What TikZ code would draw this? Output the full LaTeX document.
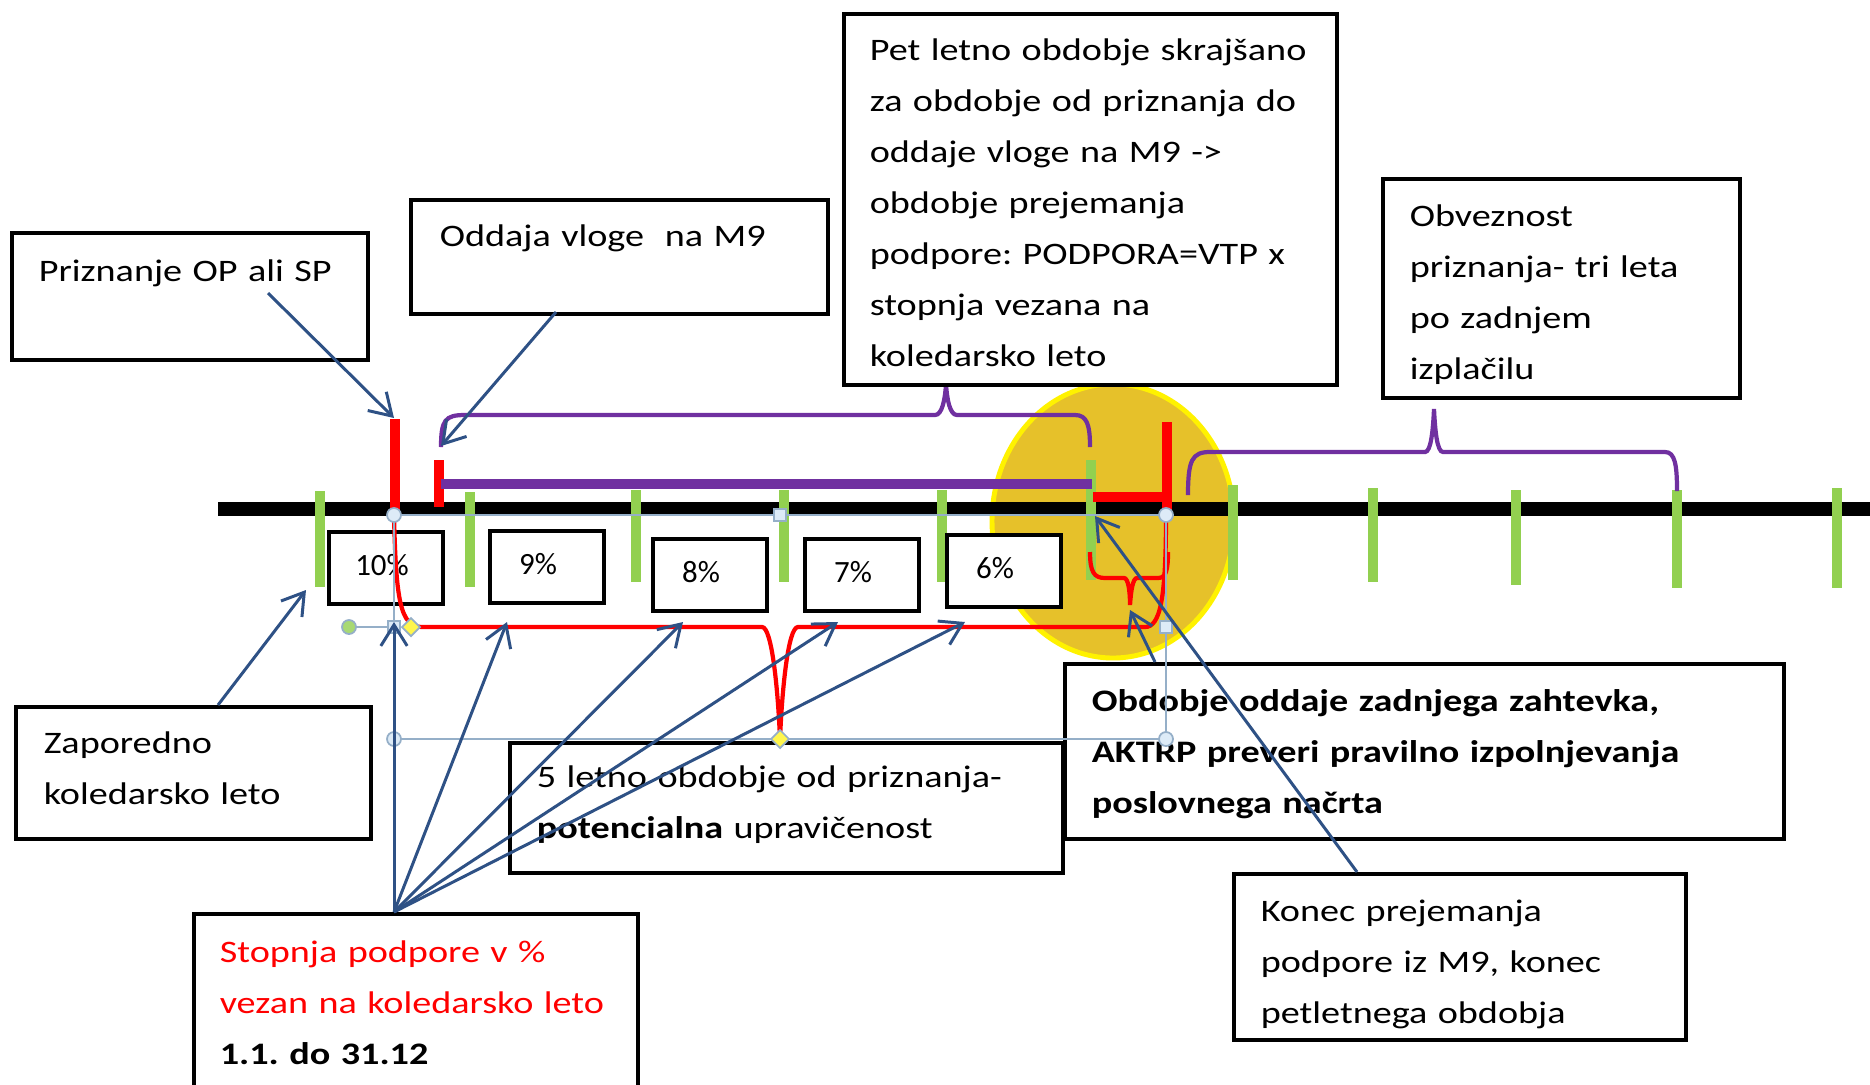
\documentclass[tikz,border=0pt]{standalone}
\usepackage{fontspec}
\setmainfont{Carlito}[FakeStretch=1.22]
\newfontfamily\pctfont{Carlito}
\usepackage{tikz}
\usetikzlibrary{arrows.meta}
\frenchspacing

\definecolor{tickgreen}{HTML}{92D050}
\definecolor{markred}{HTML}{FF0000}
\definecolor{markpurple}{HTML}{7030A0}
\definecolor{pointerblue}{HTML}{2E5185}
\definecolor{golddisc}{HTML}{E6C12A}
\definecolor{handleline}{HTML}{95AFC8}
\definecolor{handlefill}{HTML}{DDEBF7}

\tikzset{
  infobox/.style={draw, line width=1pt, fill=white, anchor=north west, align=left,
    inner ysep=1pt, font=\fontsize{8.9pt}{14.5pt}\selectfont},
  droptext/.style={execute at begin node={\rule{0pt}{#1}}},
  lifttext/.style={execute at end node={\rule[-#1]{0pt}{#1}}},
  pctbox/.style={draw, line width=1pt, fill=white, minimum width=1.14cm,
    minimum height=0.72cm, inner sep=0pt, text depth=2pt,
    execute at end node={\hspace*{#1}},
    font=\pctfont\fontsize{8.8pt}{10pt}\selectfont},
  pctbox/.default=0.18cm,
  pointer/.style={pointerblue, line width=0.85pt, -{Straight Barb[length=6pt,width=7.5pt]}},
  yeartick/.style={tickgreen, line width=3.1pt},
  bracket/.style={line width=1.2pt},
  handle/.style={draw=handleline, fill=handlefill, line width=0.5pt},
}

\begin{document}
\begin{tikzpicture}[x=0.01cm, y=-0.01cm]
  \useasboundingbox (0,0) rectangle (1870,1084);

  % disc behind the end of the period
  \draw[draw=yellow, line width=1.4pt, fill=golddisc]
  (1113,521) ellipse [x radius=121, y radius=137];

  % time axis and years
  \draw[line width=4pt] (218,509) -- (1870,509);
  \draw[yeartick]
  (320,491) -- (320,587)
  (470,492) -- (470,587)
  (636,490) -- (636,582)
  (784,490) -- (784,582)
  (942,490) -- (942,582)
  (1091,460) -- (1091,580)
  (1233,485) -- (1233,580)
  (1373,488) -- (1373,582)
  (1516,490) -- (1516,585)
  (1677,490) -- (1677,588)
  (1837,488) -- (1837,588)
  ;

  \draw[markred, line width=3.1pt]
  (395,419) -- (395,513)
  (439,460) -- (439,507)
  (1167,422) -- (1167,513)
  ;
  \draw[markred, line width=2.6pt] (1093,497) -- (1167,497);
  \draw[markpurple, line width=2.6pt] (441,484) -- (1092,484);

  \draw[markpurple, bracket]
  (441,447) .. controls (441,420) and (445,415) .. (465,415) -- (935,415)
  .. controls (942,415) and (945,400) .. (946,384)
  .. controls (947,400) and (950,415) .. (957,415) -- (1075,415)
  .. controls (1087,415) and (1090,425) .. (1090,447);
  \draw[markpurple, bracket]
  (1188,495) .. controls (1188,460) and (1192,452) .. (1210,452) -- (1425,452)
  .. controls (1431,452) and (1433,430) .. (1434,409)
  .. controls (1435,430) and (1437,452) .. (1443,452) -- (1665,452)
  .. controls (1675,452) and (1677,465) .. (1677,491);

  % rates per calendar year
  \node[pctbox=0.08cm] (p10) at (386,568) {10\%};
  \node[pctbox] (p9) at (547,567) {9\%};
  \node[pctbox] (p8) at (710,575) {8\%};
  \node[pctbox] (p7) at (862,575) {7\%};
  \node[pctbox] (p6) at (1004,571) {6\%};

  \node[infobox, text width=3.02cm, inner xsep=0.27cm, minimum height=1.27cm] (priz) at (10,231)
  {Priznanje OP ali SP\\ \mbox{}};
  \node[infobox, text width=3.59cm, inner xsep=0.29cm, minimum height=1.14cm, droptext=8.5pt] (odd) at (409,198)
  {Oddaja vloge~ na M9\\ \mbox{}};
  \node[infobox, text width=4.41cm, inner xsep=0.26cm, minimum height=3.71cm, droptext=8.2pt] (pet) at (842,12)
  {Pet letno obdobje skraj\v{s}ano\\
   za obdobje od priznanja do\\
   oddaje vloge na M9 ->\\
   obdobje prejemanja\\
   podpore: PODPORA=VTP x\\
   stopnja vezana na\\
   koledarsko leto};
  \node[infobox, text width=3.03cm, inner xsep=0.27cm, minimum height=2.19cm, droptext=9.9pt] (obv) at (1381,177)
  {Obveznost\\
   priznanja- tri leta\\
   po zadnjem\\
   izpla\v{c}ilu};
  \node[infobox, text width=2.99cm, inner xsep=0.28cm, minimum height=1.32cm, lifttext=2.8pt] (zap) at (14,705)
  {Zaporedno\\
   koledarsko leto};
  \node[infobox, text width=4.99cm, inner xsep=0.27cm, minimum height=1.30cm, lifttext=3.1pt] (let5) at (508,741)
  {5 letno obdobje od priznanja-\\
   \textbf{potencialna} upravi\v{c}enost};
  \node[infobox, text width=6.65cm, inner xsep=0.27cm, minimum height=1.75cm, droptext=7.8pt] (obd) at (1063,662)
  {\textbf{Obdobje oddaje zadnjega zahtevka,}\\
   \textbf{AKTRP preveri pravilno izpolnjevanja}\\
   \textbf{poslovnega na\v{c}rta}};
  \node[infobox, text width=3.92cm, inner xsep=0.26cm, minimum height=1.78cm] (stop) at (192,912)
  {\textcolor{markred}{Stopnja podpore v \%}\\
   \textcolor{markred}{vezan na koledarsko leto}\\
   \textbf{1.1. do 31.12}};
  \node[infobox, text width=3.98cm, inner xsep=0.27cm, minimum height=1.66cm, droptext=10.3pt] (kon) at (1232,872)
  {Konec prejemanja\\
   podpore iz M9, konec\\
   petletnega obdobja};

  % five year period and last claim
  \draw[markred, bracket]
  (394,515) .. controls (396,600) and (400,627) .. (422,627) -- (762,627)
  .. controls (772,627) and (778,690) .. (780,739)
  .. controls (782,690) and (788,627) .. (798,627) -- (1145,627)
  .. controls (1160,627) and (1166,600) .. (1166,515);
  \draw[markred, bracket]
  (1090,552) .. controls (1090,572) and (1094,578) .. (1105,578) -- (1124,578)
  .. controls (1128,578) and (1130,590) .. (1130,605)
  .. controls (1131,590) and (1133,578) .. (1137,578) -- (1158,578)
  .. controls (1166,578) and (1168,570) .. (1168,552);

  \draw[handleline, line width=0.5pt]
  (394,515) rectangle (1166,739)
  (349,627) -- (394,627);
  \draw[handle] (394,515) circle [radius=7];
  \draw[handle] (1166,515) circle [radius=7];
  \draw[handle] (394,739) circle [radius=7];
  \draw[handle] (1166,739) circle [radius=7];
  \draw[handle] (774,509) rectangle (786,521);
  \draw[handle] (388,621) rectangle (400,633);
  \draw[handle] (1160,621) rectangle (1172,633);
  \draw[handle, fill=yellow!70] (411,618) -- (420,627) -- (411,636) -- (402,627) -- cycle;
  \draw[handle, fill=yellow!70] (780,730) -- (789,739) -- (780,748) -- (771,739) -- cycle;
  \draw[handle, fill=tickgreen!80] (349,627) circle [radius=7];

  % pointers
  \coordinate (priz-from) at (268,293);
  \coordinate (priz-to) at (394,418);
  \coordinate (odd-from) at (556,312);
  \coordinate (odd-to) at (441,446);
  \coordinate (zap-from) at (218,705);
  \coordinate (zap-to) at (306,590);
  \coordinate (stop-from) at (394,912);
  \coordinate (rate10) at (394,622);
  \coordinate (rate9) at (507,622);
  \coordinate (rate8) at (683,622);
  \coordinate (rate7) at (838,622);
  \coordinate (rate6) at (965,622);
  \coordinate (obd-from) at (1155,662);
  \coordinate (obd-to) at (1130,610);
  \coordinate (kon-from) at (1357,872);
  \coordinate (kon-to) at (1095,516);

  \draw[pointer] (priz-from) -- (priz-to);
  \draw[pointer] (odd-from) -- (odd-to);
  \draw[pointer] (zap-from) -- (zap-to);
  \draw[pointer] (stop-from) -- (rate10);
  \draw[pointer] (stop-from) -- (rate9);
  \draw[pointer] (stop-from) -- (rate8);
  \draw[pointer] (stop-from) -- (rate7);
  \draw[pointer] (stop-from) -- (rate6);
  \draw[pointer] (obd-from) -- (obd-to);
  \draw[pointer] (kon-from) -- (kon-to);
\end{tikzpicture}
\end{document}
